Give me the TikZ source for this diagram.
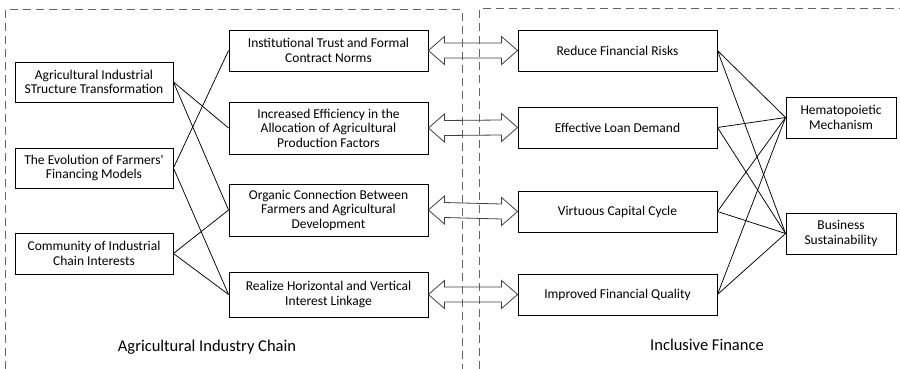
\documentclass[tikz,border=0pt]{standalone}
\usepackage{fontspec}
\setmainfont{Carlito}
\usetikzlibrary{calc}
\begin{document}
\begin{tikzpicture}[x=1pt,y=-1pt,
  box/.style={draw=black,line width=0.9pt,align=center,inner sep=0pt,
    font=\fontsize{13.5}{14.5}\selectfont},
  leftbox/.style={box,minimum width=158pt,minimum height=40pt},
  midbox/.style={box,minimum width=199pt,minimum height=41pt},
  farbox/.style={box,minimum width=110pt,minimum height=41pt},
  link/.style={draw=black,line width=0.75pt},
  region/.style={draw=black!60,line width=1pt,dash pattern=on 8pt off 5pt},
  dblarrow/.style={draw=black!75,line width=0.8pt,line join=miter},
  caption/.style={font=\fontsize{16.5}{19}\selectfont}]
\useasboundingbox (0,0) rectangle (900,369);

% group frames
\draw[region] (5,369) -- (5,10) -- (462,10) -- (462,369);
\draw[region] (479,369) -- (479,9) -- (900,9);

% drivers along the agricultural chain
\node[leftbox] (ais) at (94,82) {Agricultural Industrial\\STructure Transformation};
\node[leftbox] (evo) at (94,168) {The Evolution of Farmers\textquotesingle\\Financing Models};
\node[leftbox,minimum height=41pt] (com) at (94,253.5) {Community of Industrial\\Chain Interests};

% mechanisms
\node[midbox] (ins) at (328.5,50.5) {Institutional Trust and Formal\\Contract Norms};
\node[midbox,minimum height=52pt] (eff) at (328.5,128) {Increased Efficiency in the\\Allocation of Agricultural\\Production Factors};
\node[midbox,minimum height=52pt] (org) at (328.5,210) {Organic Connection Between\\Farmers and Agricultural\\Development};
\node[midbox,minimum height=45pt] (rea) at (328.5,294.5) {Realize Horizontal and Vertical\\Interest Linkage};

% finance effects
\node[midbox] (red) at (617.5,50.5) {Reduce Financial Risks};
\node[midbox] (loa) at (617.5,127.5) {Effective Loan Demand};
\node[midbox] (vir) at (617.5,211.5) {Virtuous Capital Cycle};
\node[midbox] (imp) at (617.5,294.5) {Improved Financial Quality};

% outcomes
\node[farbox] (hem) at (841,117.5) {Hematopoietic\\Mechanism};
\node[farbox] (bus) at (841,233.5) {Business\\Sustainability};

% links on the left
\draw[link] (ais.east) -- (eff.west);
\draw[link] (ais.east) -- (org.west);
\draw[link] (evo.east) -- (ins.west);
\draw[link] (evo.east) -- (rea.west);
\draw[link] (com.east) -- (org.west);
\draw[link] (com.east) -- (rea.west);

% links on the right
\foreach \s in {red,loa,vir,imp}{
  \draw[link] (\s.east) -- (hem.west);
  \draw[link] (\s.east) -- (bus.west);
}

% two-way arrows between the chains
\foreach \a/\b in {ins/red,eff/loa,org/vir,rea/imp}{
  \draw[dblarrow] (\a.east)
    -- ($(\a.east)+(16,-14)$) -- ($(\a.east)+(16,-7.5)$)
    -- ($(\b.west)+(-16,-7.5)$) -- ($(\b.west)+(-16,-14)$)
    -- (\b.west)
    -- ($(\b.west)+(-16,14)$) -- ($(\b.west)+(-16,7.5)$)
    -- ($(\a.east)+(16,7.5)$) -- ($(\a.east)+(16,14)$)
    -- cycle;
}

% region captions
\node[caption] (cap1) at (207,347) {Agricultural Industry Chain};
\node[caption] (cap2) at (707,345) {Inclusive Finance};
\end{tikzpicture}
\end{document}
